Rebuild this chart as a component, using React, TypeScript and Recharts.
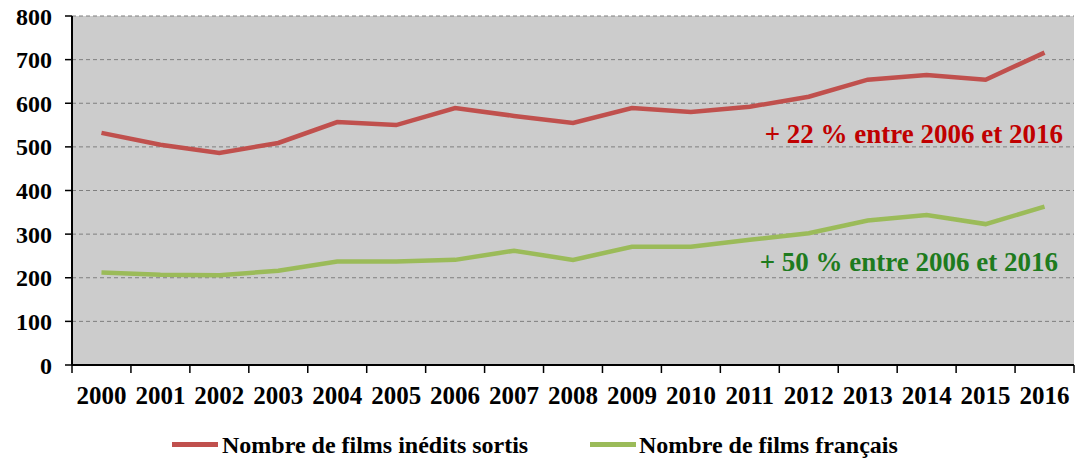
import React from 'react';
import {
  LineChart, Line, XAxis, YAxis, CartesianGrid, Legend, ReferenceDot,
} from 'recharts';

const YEARS = [
  '2000', '2001', '2002', '2003', '2004', '2005', '2006', '2007', '2008',
  '2009', '2010', '2011', '2012', '2013', '2014', '2015', '2016',
];
const FILMS_INEDITS = [532, 505, 486, 509, 557, 550, 589, 571, 555, 589, 580, 592, 615, 654, 665, 654, 716];
const FILMS_FRANCAIS = [212, 207, 206, 216, 237, 237, 241, 262, 241, 271, 271, 287, 302, 331, 344, 323, 363];
const Y_TICKS = [0, 100, 200, 300, 400, 500, 600, 700, 800];

const RED = '#C0504D';
const GREEN = '#9BBB59';
const FONT = '"Liberation Serif", "Times New Roman", serif';

const W = 1077;
const H = 459;
const Y_AXIS_W = 72;
const RIGHT = 3;
const BAND = (W - Y_AXIS_W - RIGHT) / YEARS.length;

const data = YEARS.map((year, i) => ({
  year,
  inedits: FILMS_INEDITS[i],
  francais: FILMS_FRANCAIS[i],
}));

const XTick = (props: any) => {
  const { x, y, payload, index } = props;
  const last = index === YEARS.length - 1;
  return (
    <g>
      <line x1={x - BAND / 2} x2={x - BAND / 2} y1={y} y2={y + 8} stroke="#000" strokeWidth={1.5} />
      {last && <line x1={x + BAND / 2} x2={x + BAND / 2} y1={y} y2={y + 8} stroke="#000" strokeWidth={1.5} />}
      <text x={x} y={y + 39} textAnchor="middle" fill="#000" fontSize={25} fontWeight="bold" fontFamily={FONT}>
        {payload.value}
      </text>
    </g>
  );
};

const Note = (color: string, text: string, dx: number) => (p: any) => (
  <text x={p.cx + dx} y={p.cy} textAnchor="end" fill={color} fontSize={27} fontWeight="bold" fontFamily={FONT}>
    {text}
  </text>
);

const LegendContent = () => (
  <div style={{ position: 'relative', width: W, height: 48, fontFamily: FONT, fontWeight: 'bold', fontSize: 24, color: '#000' }}>
    <div style={{ position: 'absolute', left: 172, top: 31, width: 46, height: 5, background: RED }} />
    <div style={{ position: 'absolute', left: 222, top: 19, lineHeight: '30px', whiteSpace: 'nowrap' }}>Nombre de films inédits sortis</div>
    <div style={{ position: 'absolute', left: 590, top: 31, width: 46, height: 5, background: GREEN }} />
    <div style={{ position: 'absolute', left: 639, top: 19, lineHeight: '30px', whiteSpace: 'nowrap' }}>Nombre de films français</div>
  </div>
);

export default function App() {
  const pad = { left: BAND / 2, right: BAND / 2 };
  return (
    <div style={{ position: 'absolute', left: 0, top: 0, width: W, height: H, background: '#fff' }}>
      <LineChart width={W} height={H} data={data} margin={{ top: 16, right: RIGHT, left: 0, bottom: 0 }}>
        <CartesianGrid vertical={false} fill="#CCCCCC" stroke="#7F7F7F" strokeDasharray="4 3" />
        <XAxis
          dataKey="year"
          interval={0}
          padding={pad}
          tick={<XTick />}
          tickLine={false}
          tickSize={0}
          tickMargin={0}
          height={46}
          axisLine={{ stroke: '#000', strokeWidth: 2 }}
        />
        <XAxis xAxisId="top" orientation="top" dataKey="year" padding={pad} height={0} tick={false} tickLine={false} axisLine={{ stroke: '#8C8C8C', strokeWidth: 1.5 }} />
        <YAxis
          domain={[0, 800]}
          ticks={Y_TICKS}
          width={Y_AXIS_W}
          tickSize={7}
          tickMargin={13}
          tickLine={{ stroke: '#000', strokeWidth: 1.5 }}
          axisLine={{ stroke: '#000', strokeWidth: 2 }}
          tick={{ fill: '#000', fontSize: 24, fontWeight: 'bold', fontFamily: FONT }}
        />
        <YAxis yAxisId="right" orientation="right" width={0} domain={[0, 800]} tick={false} tickLine={false} axisLine={{ stroke: '#9A9A9A', strokeWidth: 1.5 }} />
        <Line dataKey="inedits" name="Nombre de films inédits sortis" stroke={RED} strokeWidth={4.5} dot={false} isAnimationActive={false} />
        <Line dataKey="francais" name="Nombre de films français" stroke={GREEN} strokeWidth={4.5} dot={false} isAnimationActive={false} />
        <ReferenceDot x="2016" y={509} r={1} shape={Note('#C00000', '+ 22 % entre 2006 et 2016', 18.5)} />
        <ReferenceDot x="2016" y={215.5} r={1} shape={Note('#1E7B1E', '+ 50 % entre 2006 et 2016', 13.5)} />
        <Legend verticalAlign="bottom" height={48} content={<LegendContent />} />
      </LineChart>
    </div>
  );
}
